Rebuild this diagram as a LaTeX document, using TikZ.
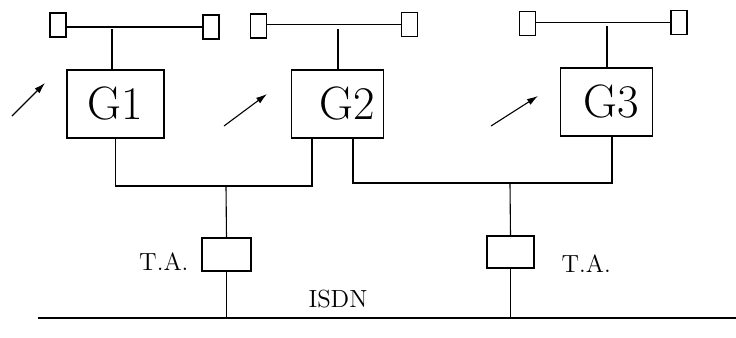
\documentclass[tikz,border=0pt]{standalone}
\usepackage{tikz}
\usetikzlibrary{arrows.meta,positioning}

\begin{document}
\begin{tikzpicture}[
    x=0.5pt, y=-0.5pt, line width=0.55pt,
    termbox/.style={rectangle, draw, minimum width=8pt, minimum height=12pt, inner sep=0pt},
    gbox/.style={rectangle, draw, minimum width=46pt, minimum height=34pt, inner sep=0pt, font=\fontsize{23.4}{28}\selectfont},
    tabox/.style={rectangle, draw, minimum width=24.5pt, minimum height=16.5pt, inner sep=0pt},
    lbl/.style={inner sep=0pt, font=\fontsize{12.4}{15}\selectfont},
    radio/.style={-{Latex[length=5.5pt,width=3.4pt]}}
]
\useasboundingbox (0,0) rectangle (736,338);

\node[termbox] (t1l) at (58,25) {};
\node[termbox] (t1r) at (211,27) {};
\node[termbox] (t2l) at (258.5,26) {};
\node[termbox] (t2r) at (409.5,24.5) {};
\node[termbox] (t3l) at (527.5,23.5) {};
\node[termbox] (t3r) at (679,22.5) {};

\node[gbox, minimum width=48.5pt] (g1) at (115.5,104) {G1};
\node[gbox] (g2) at (337.5,104) {\hspace{10pt}G2};
\node[gbox] (g3) at (606.5,102) {\hspace{5pt}G3};

\node[tabox] (ta1) at (226.5,254.5) {};
\node[tabox, minimum width=23.5pt, minimum height=16pt] (ta2) at (510.5,252) {};

\node[lbl, anchor=base east] (l1) at (189,270) {T.A.};
\node[lbl, anchor=base west] (l2) at (561,272) {T.A.};
\node[lbl] (isdn) at (338,299) {ISDN};

\coordinate (b1) at (112,29);
\coordinate (b2) at (338,29);
\coordinate (b3) at (607,26);
\coordinate (j1) at (226,186);
\coordinate (j2) at (510,183);
\coordinate (g2a) at (312,138);
\coordinate (g2b) at (353,138);
\coordinate (g3a) at (612,136);
\coordinate (isdnl) at (38,318);
\coordinate (isdnr) at (736,318);

\draw (t1r.west -| t1l.east) -- (t1r.west);
\draw (t2r.west -| t2l.east) -- (t2r.west);
\draw (t3r.west -| t3l.east) -- (t3r.west);
\draw (b1) -- (b1 |- g1.north);
\draw (b2) -- (b2 |- g2.north);
\draw (b3) -- (b3 |- g3.north);

\draw (g1.south) |- (j1) -| (g2a);
\draw (g2b) |- (j2) -| (g3a);
\draw (j1) -- (ta1.north);
\draw (j2) -- (ta2.north);
\draw (ta1.south) -- (ta1.south |- isdnl);
\draw (ta2.south) -- (ta2.south |- isdnl);
\draw (isdnl) -- (isdnr);

\coordinate (r1) at (12,116);
\coordinate (r2) at (224,126);
\coordinate (r3) at (491,126);
\draw[radio] (r1) -- (45,83);
\draw[radio] (r2) -- (267,94);
\draw[radio] (r3) -- (538,96);
\end{tikzpicture}
\end{document}
